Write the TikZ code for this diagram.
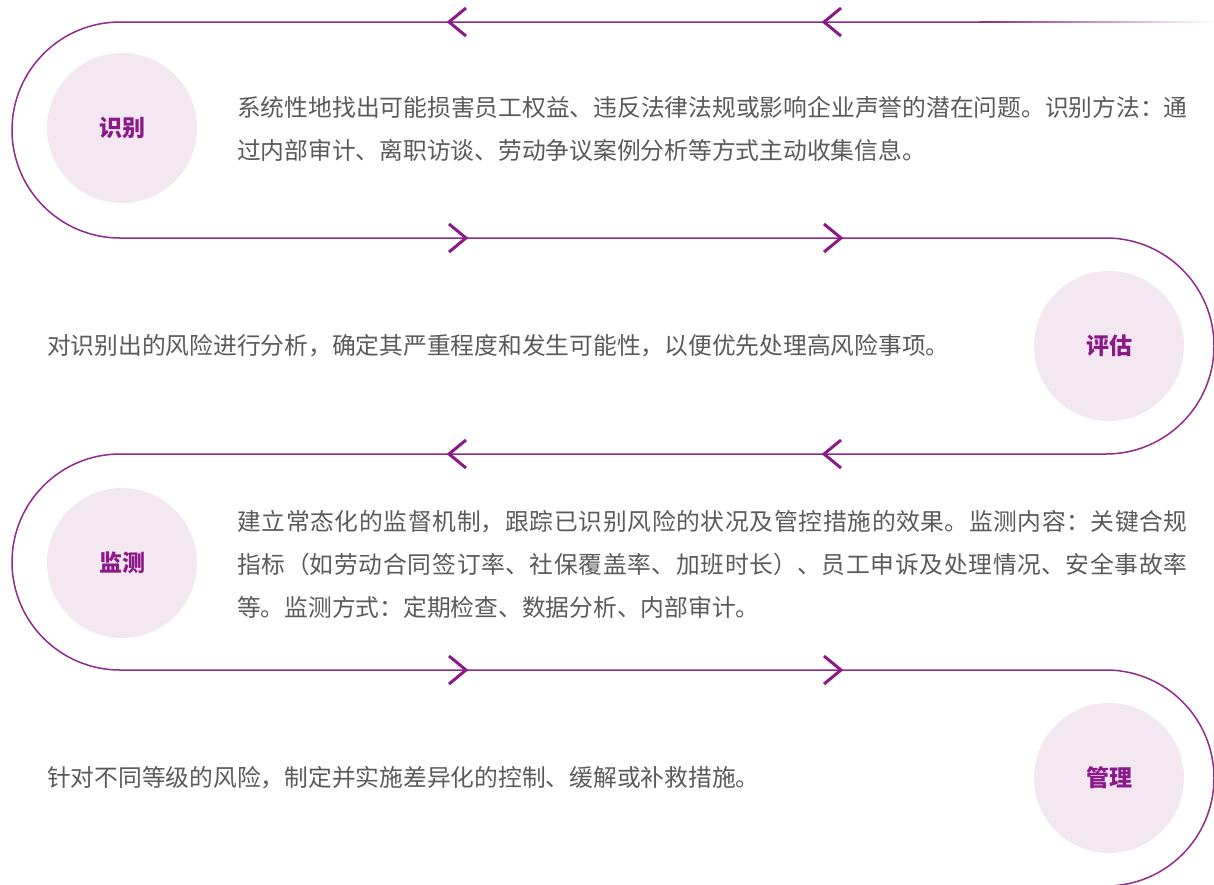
\documentclass[tikz,border=0pt]{standalone}
\usepackage{fontspec}
\setmainfont{Noto Sans CJK SC}
\XeTeXlinebreaklocale "zh"
\XeTeXlinebreakskip=0pt plus 3pt
\definecolor{pathc}{HTML}{8E2A8A}
\definecolor{chevc}{HTML}{8B1A89}
\definecolor{circc}{HTML}{F3E7F2}
\definecolor{txtc}{HTML}{5A5A5A}
\begin{document}
\begin{tikzpicture}[x=1pt,y=-1pt,
  stepcirc/.style={circle, fill=circc, minimum size=150pt, inner sep=0pt,
    font=\fontsize{23pt}{23pt}\selectfont\bfseries, text=chevc},
  body/.style={anchor=west, inner sep=0pt, text=txtc,
    font=\fontsize{23.75pt}{43pt}\selectfont},
  bodypar/.style={body, text width=950.5pt, align=justify},
  route/.style={draw=pathc, line width=1.5pt},
  chev/.style={draw=chevc, line width=3pt},
  chl/.pic={\draw[chev] (17,-14) -- (0,0) -- (17,14);},
  chr/.pic={\draw[chev] (-17,-14) -- (0,0) -- (-17,14);}]
\useasboundingbox (0,0) rectangle (1214,884);
\clip (0,0) rectangle (1214,884);
% route
\coordinate (a0) at (980,22);
\coordinate (a1) at (120,22);
\coordinate (b1) at (1106,238);
\coordinate (c1) at (120,454);
\coordinate (d1) at (1106,670);
\draw[route] (a0) -- (a1) arc[start angle=90,end angle=270,radius=108pt]
  -- (b1) arc[start angle=90,end angle=-90,radius=108pt]
  -- (c1) arc[start angle=90,end angle=270,radius=108pt]
  -- (d1) arc[start angle=90,end angle=-90,radius=108pt];
\shade[left color=pathc, right color=white] (979.5,21.25) rectangle (1214,22.75);
% chevrons
\pic at (449,22) {chl};
\pic at (824,22) {chl};
\pic at (466,238) {chr};
\pic at (841,238) {chr};
\pic at (449,454) {chl};
\pic at (824,454) {chl};
\pic at (466,670) {chr};
\pic at (841,670) {chr};
% circles
\node[stepcirc] (s1) at (122,128) {识别};
\node[stepcirc] (s2) at (1109,346) {评估};
\node[stepcirc] (s3) at (122,563) {监测};
\node[stepcirc] (s4) at (1109,778) {管理};
% texts
\node[bodypar] (t1) at (237,129) {系统性地找出可能损害员工权益、违反法律法规或影响企业声誉的潜在问题。识别方法：通\linebreak 过内部审计、离职访谈、劳动争议案例分析等方式主动收集信息。};
\node[body] (t2) at (47,346) {对识别出的风险进行分析，确定其严重程度和发生可能性，以便优先处理高风险事项。};
\node[bodypar] (t3) at (237,564) {建立常态化的监督机制，跟踪已识别风险的状况及管控措施的效果。监测内容：关键合规\linebreak 指标（如劳动合同签订率、社保覆盖率、加班时长）、员工申诉及处理情况、安全事故率\linebreak 等。监测方式：定期检查、数据分析、内部审计。};
\node[body] (t4) at (47,778) {针对不同等级的风险，制定并实施差异化的控制、缓解或补救措施。};
\end{tikzpicture}
\end{document}
